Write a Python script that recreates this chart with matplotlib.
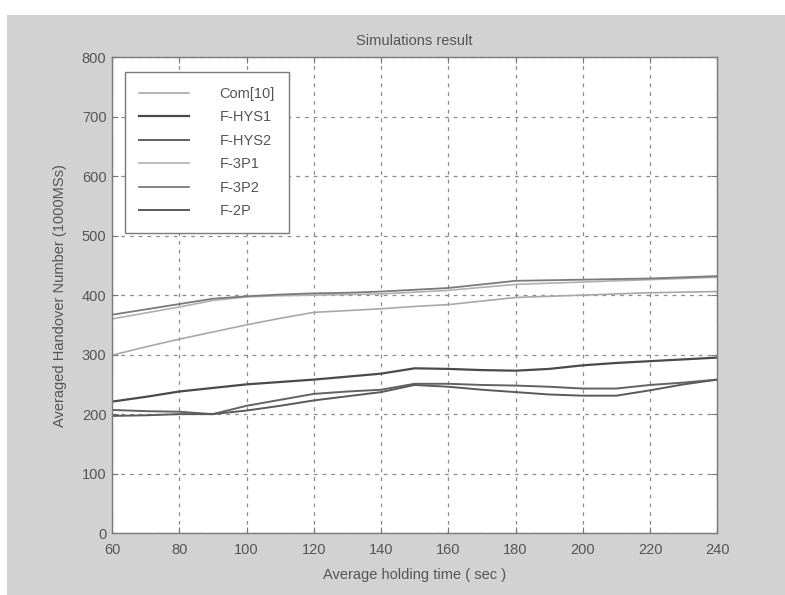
import matplotlib.pyplot as plt
from matplotlib.patches import Rectangle

# Holding time (sec) and averaged handover number (per 1000 MSs)
hold_time = [60, 70, 80, 90, 100, 110, 120, 130, 140, 150,
             160, 170, 180, 190, 200, 210, 220, 230, 240]

com10 = [299, 313, 326, 338, 350, 361, 371, 374, 377, 381,
         384, 390, 396, 398, 400, 402, 404, 405, 406]
f_hys1 = [221, 229, 238, 244, 250, 254, 258, 263, 268, 277,
          276, 274, 273, 276, 282, 286, 289, 292, 295]
f_hys2 = [207, 205, 204, 200, 214, 224, 234, 238, 241, 251,
          251, 249, 248, 246, 243, 243, 249, 253, 258]
f_3p1 = [360, 370, 380, 391, 397, 399, 400, 401, 402, 405,
         408, 413, 418, 420, 422, 424, 426, 428, 430]
f_3p2 = [367, 376, 385, 394, 398, 401, 403, 404, 406, 409,
         412, 418, 424, 425, 426, 427, 428, 430, 432]
f_2p = [197, 198, 200, 200, 206, 214, 223, 230, 237, 249,
        246, 241, 237, 233, 231, 231, 240, 250, 258]

labels = ["Com[10]", "F-HYS1", "F-HYS2", "F-3P1", "F-3P2", "F-2P"]
series = [com10, f_hys1, f_hys2, f_3p1, f_3p2, f_2p]
colors = ["#a8a8a8", "#4a4a4a", "#626262", "#b0b0b0", "#7a7a7a", "#5a5a5a"]
widths = [1.2, 1.6, 1.4, 1.2, 1.3, 1.4]

x_ticks = list(range(60, 241, 20))
y_ticks = list(range(0, 801, 100))

TEXT = "#555555"
plt.rcParams["font.family"] = ["Liberation Sans", "DejaVu Sans"]

fig = plt.figure(figsize=(7.85, 5.95), dpi=100)
fig.patch.set_facecolor("white")
# grey panel behind the axes, leaving a thin white strip on top and left
fig.patches.append(Rectangle((0.009, 0), 0.991, 0.975, transform=fig.transFigure,
                             facecolor="#d2d2d2", edgecolor="none", zorder=-10))

ax = fig.add_axes([0.1427, 0.104, 0.771, 0.80])
ax.set_facecolor("white")

for y, lab, c, w in zip(series, labels, colors, widths):
    ax.plot(hold_time, y, color=c, linewidth=w, label=lab)

ax.set_xlim(60, 240)
ax.set_ylim(0, 800)
ax.set_xticks(x_ticks)
ax.set_yticks(y_ticks)
ax.grid(True, color="#8c8c8c", linestyle=(0, (3, 4)), linewidth=0.9)
ax.tick_params(direction="in", top=True, right=True, length=4, width=0.8,
               colors="#777777", labelcolor=TEXT, labelsize=10.5)
ax.tick_params(axis="x", pad=7)
ax.tick_params(axis="y", pad=4)
for sp in ax.spines.values():
    sp.set_color("#7a7a7a")
    sp.set_linewidth(1.0)

ax.set_title("Simulations result", color=TEXT, fontsize=10.5, pad=9)
ax.set_xlabel("Average holding time ( sec )", color=TEXT, fontsize=10.5, labelpad=8)
ax.set_ylabel("Averaged Handover Number (1000MSs)", color=TEXT, fontsize=10.5, labelpad=11)

leg = ax.legend(loc="upper left", bbox_to_anchor=(0.021, 0.968), borderaxespad=0,
                fontsize=10.5, handlelength=3.4, handletextpad=2.1, labelspacing=0.65,
                borderpad=1.0, fancybox=False, framealpha=1)
leg.get_frame().set_edgecolor("#7a7a7a")
leg.get_frame().set_linewidth(1.0)
for t in leg.get_texts():
    t.set_color(TEXT)

fig.savefig("out.png", dpi=100)
